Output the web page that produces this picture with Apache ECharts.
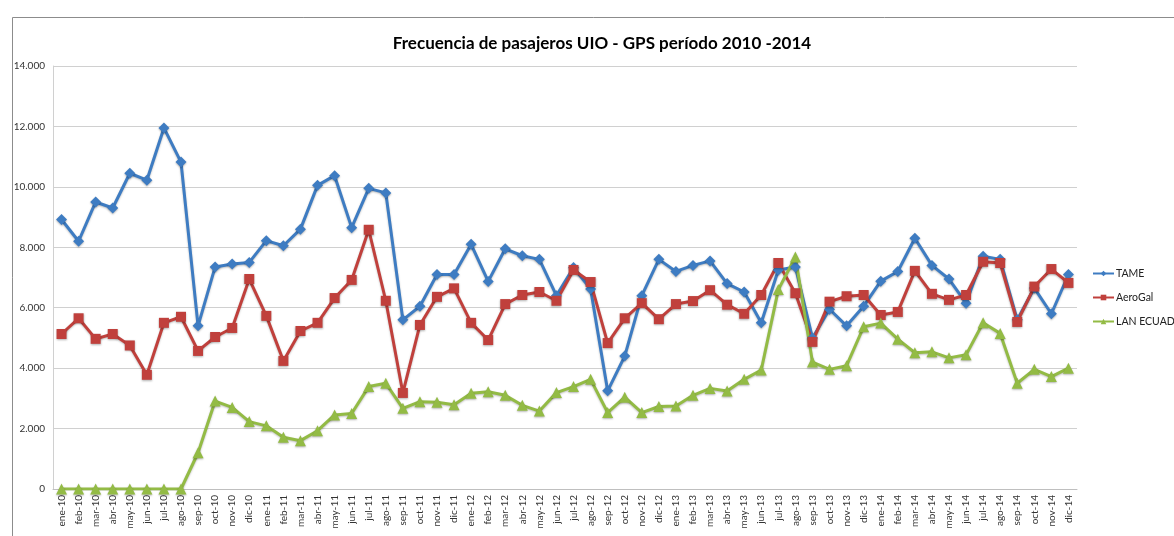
<!DOCTYPE html>
<html>
<head>
<meta charset="utf-8">
<script src="https://cdn.jsdelivr.net/npm/echarts@6/dist/echarts.min.js"></script>
<style>
  html, body { margin: 0; padding: 0; background: #fff; }
  #main { width: 1174px; height: 536px; }
</style>
</head>
<body>
<div id="main"></div>
<script>
// meses ene-10 .. dic-14
const months = [
  "ene-10", "feb-10", "mar-10", "abr-10", "may-10", "jun-10", "jul-10", "ago-10", "sep-10", "oct-10", "nov-10", "dic-10",
  "ene-11", "feb-11", "mar-11", "abr-11", "may-11", "jun-11", "jul-11", "ago-11", "sep-11", "oct-11", "nov-11", "dic-11",
  "ene-12", "feb-12", "mar-12", "abr-12", "may-12", "jun-12", "jul-12", "ago-12", "sep-12", "oct-12", "nov-12", "dic-12",
  "ene-13", "feb-13", "mar-13", "abr-13", "may-13", "jun-13", "jul-13", "ago-13", "sep-13", "oct-13", "nov-13", "dic-13",
  "ene-14", "feb-14", "mar-14", "abr-14", "may-14", "jun-14", "jul-14", "ago-14", "sep-14", "oct-14", "nov-14", "dic-14"
];

const tame = [
  8920, 8200, 9500, 9300, 10450, 10220, 11950, 10820, 5400, 7350, 7450, 7500,
  8220, 8050, 8600, 10050, 10370, 8650, 9950, 9800, 5600, 6050, 7100, 7100,
  8100, 6870, 7950, 7720, 7600, 6400, 7330, 6620, 3250, 4400, 6400, 7600,
  7200, 7400, 7550, 6800, 6520, 5500, 7250, 7350, 5000, 5950, 5400, 6050,
  6880, 7200, 8300, 7400, 6950, 6150, 7700, 7600, 5600, 6650, 5800, 7100
];

const aerogal = [
  5130, 5650, 4970, 5130, 4750, 3780, 5500, 5700, 4570, 5030, 5330, 6950,
  5730, 4240, 5230, 5500, 6320, 6920, 8580, 6230, 3180, 5430, 6360, 6640,
  5500, 4930, 6120, 6420, 6520, 6230, 7250, 6850, 4830, 5650, 6150, 5620,
  6120, 6220, 6580, 6100, 5800, 6420, 7480, 6480, 4870, 6200, 6380, 6420,
  5760, 5860, 7220, 6460, 6260, 6420, 7520, 7480, 5530, 6700, 7280, 6820
];

const lan = [
  0, 0, 0, 0, 0, 0, 0, 0, 1200, 2910, 2700, 2230,
  2090, 1710, 1600, 1930, 2450, 2500, 3390, 3500, 2670, 2890, 2870, 2790,
  3170, 3220, 3100, 2770, 2580, 3190, 3390, 3630, 2530, 3040, 2530, 2730,
  2750, 3100, 3330, 3240, 3630, 3940, 6600, 7680, 4200, 3960, 4080, 5370,
  5490, 4960, 4510, 4540, 4340, 4440, 5500, 5150, 3500, 3960, 3720, 4000
];

const yTicks = [0, 2000, 4000, 6000, 8000, 10000, 12000, 14000];

var myChart = echarts.init(document.getElementById("main"));

function fmtMiles(v) {
  return String(v).replace(/\B(?=(\d{3})+(?!\d))/g, ".");
}

function lineSerie(name, data, color, symbol, size) {
  return {
    name: name,
    type: "line",
    data: data,
    symbol: symbol,
    symbolSize: size,
    showAllSymbol: true,
    itemStyle: {
      color: color,
      shadowColor: "rgba(0,0,0,0.3)",
      shadowBlur: 2,
      shadowOffsetY: 1,
    },
    lineStyle: {
      color: color,
      width: 3,
      shadowColor: "rgba(0,0,0,0.25)",
      shadowBlur: 2,
      shadowOffsetY: 1,
    },
    emphasis: { disabled: true },
  };
}

const option = {
  backgroundColor: "#fff",
  animation: false,
  textStyle: { fontFamily: "Lato, 'Liberation Sans', sans-serif" },
  title: {
    text: "Frecuencia de pasajeros UIO - GPS período 2010 -2014",
    left: 597,
    textAlign: "center",
    top: 30,
    textStyle: {
      fontFamily: "Lato, 'Liberation Sans', sans-serif",
      fontSize: 17,
      fontWeight: "bold",
      color: "#000",
    },
  },
  graphic: [
    {
      type: "rect",
      left: 10,
      top: 15,
      shape: { width: 1200, height: 600 },
      style: { fill: "none", stroke: "#8c8c8c", lineWidth: 1 },
      z: -1,
    },
  ],
  legend: {
    orient: "vertical",
    left: 1092,
    top: 268,
    padding: 0,
    itemWidth: 21,
    itemHeight: 7,
    itemGap: 13,
    textStyle: { fontSize: 10.5, color: "#222", padding: [0, 0, 0, -3] },
    data: ["TAME", "AeroGal", "LAN ECUADOR"],
  },
  grid: {
    left: 53,
    right: 97,
    top: 66,
    bottom: 47,
    containLabel: false,
  },
  xAxis: {
    type: "category",
    data: months,
    boundaryGap: true,
    axisLine: { show: true, lineStyle: { color: "#bfbfbf" } },
    axisTick: { show: false },
    axisLabel: {
      interval: 0,
      rotate: 90,
      fontSize: 10,
      color: "#333",
      margin: 6,
    },
  },
  yAxis: {
    type: "value",
    min: yTicks[0],
    max: yTicks[yTicks.length - 1],
    interval: 2000,
    axisLine: { show: true, lineStyle: { color: "#d0d0d0" } },
    axisTick: { show: false },
    axisLabel: {
      fontSize: 10,
      color: "#333",
      margin: 8,
      formatter: fmtMiles,
    },
    splitLine: { show: true, lineStyle: { color: "#d0d0d0", width: 1 } },
  },
  series: [
    lineSerie("TAME", tame, "#3e7cc2", "diamond", 11),
    lineSerie("AeroGal", aerogal, "#c0403c", "rect", 10),
    lineSerie("LAN ECUADOR", lan, "#93bb45", "triangle", 11),
  ],
};

myChart.setOption(option);
</script>
</body>
</html>
